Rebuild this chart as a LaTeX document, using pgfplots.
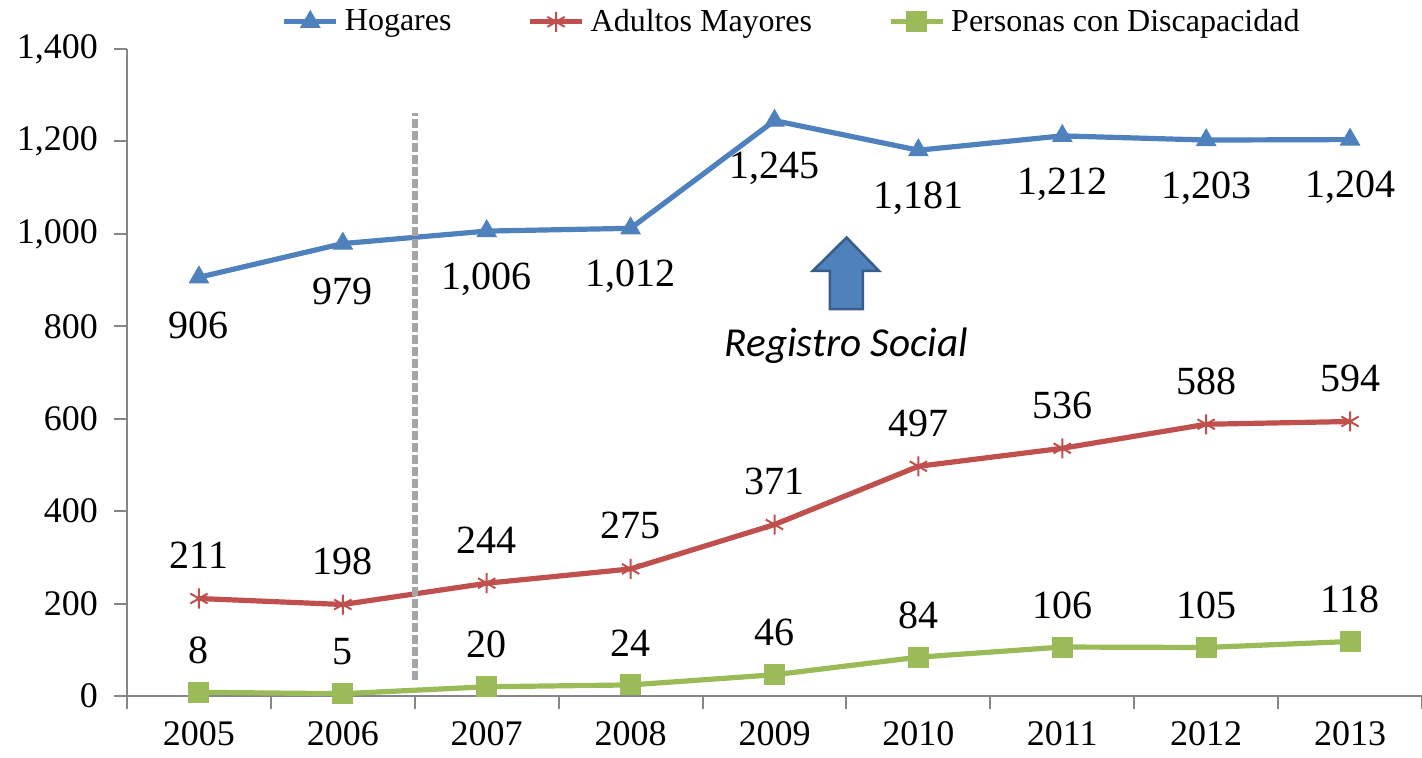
\documentclass[border=0pt]{standalone}
\usepackage{pgfplots}
\pgfplotsset{compat=1.18}
\usepackage{fontspec}
\setmainfont{Liberation Serif}
\newfontfamily\calibri{Carlito}
\definecolor{cblue}{HTML}{4F81BD}
\definecolor{cred}{HTML}{C0504D}
\definecolor{cgreen}{HTML}{9BBB59}
\definecolor{cgray}{HTML}{868686}
\definecolor{dgray}{HTML}{A6A6A6}
\definecolor{aborder}{HTML}{385D8A}
\begin{document}
\begin{tikzpicture}
\path[use as bounding box] (-63.5pt,-30.5pt) rectangle (647.5pt,348pt);
\begin{axis}[
  at={(0,0)}, anchor=south west, scale only axis,
  width=647.5pt, height=323.5pt,
  xmin=-0.5, xmax=8.5, ymin=0, ymax=1400,
  clip=false,
  axis x line*=bottom, axis y line*=left,
  axis line style={cgray, line width=1pt, -},
  tick align=outside, major tick length=6.5pt,
  tick style={cgray, line width=1pt},
  xtick={-0.5,0.5,1.5,2.5,3.5,4.5,5.5,6.5,7.5,8.5},
  xticklabels={},
  extra x ticks={0,1,2,3,4,5,6,7,8},
  extra x tick labels={2005,2006,2007,2008,2009,2010,2011,2012,2013},
  extra x tick style={tick style={draw=none}},
  xticklabel style={font=\fontsize{18}{18}\selectfont, yshift=-2.5pt},
  ytick={0,200,400,600,800,1000,1200,1400},
  yticklabel style={font=\fontsize{18}{18}\selectfont, xshift=-4.5pt},
  /pgf/number format/1000 sep={,},
  /pgf/number format/assume math mode=true,
  legend style={at={(0.514,1.042)}, anchor=center, draw=none, fill=none,
    legend columns=-1, font=\fontsize{16}{16}\selectfont,
    /tikz/every even column/.append style={column sep=36pt},
    /tikz/every odd column/.append style={column sep=1pt}},
  legend image code/.code={\draw[#1, mark repeat=2, mark phase=2] plot coordinates {(0pt,0pt) (13pt,0pt) (26pt,0pt)};},
]
\addplot[color=cblue, line width=2.6pt, mark=triangle*, mark size=5.5pt,
  mark options={solid, line width=0.5pt},
  nodes near coords,
  every node near coord/.append style={text=black, anchor=center, yshift=-24pt, font=\fontsize{20}{20}\selectfont}]
  coordinates {(0,906) (1,979) (2,1006) (3,1012) (4,1245) (5,1181) (6,1212) (7,1203) (8,1204)};
\addlegendentry{Hogares}
\addplot[color=cred, line width=2.6pt, mark=asterisk, mark size=5pt,
  mark options={solid, line width=1pt},
  nodes near coords,
  every node near coord/.append style={text=black, anchor=center, yshift=21.5pt, font=\fontsize{20}{20}\selectfont}]
  coordinates {(0,211) (1,198) (2,244) (3,275) (4,371) (5,497) (6,536) (7,588) (8,594)};
\addlegendentry{Adultos Mayores}
\addplot[color=cgreen, line width=2.6pt, mark=square*, mark size=5pt,
  mark options={solid, line width=0.5pt},
  nodes near coords,
  every node near coord/.append style={text=black, anchor=center, yshift=21pt, font=\fontsize{20}{20}\selectfont}]
  coordinates {(0,8) (1,5) (2,20) (3,24) (4,46) (5,84) (6,106) (7,105) (8,118)};
\addlegendentry{Personas con Discapacidad}
\draw[dgray, line width=3pt, dash pattern=on 4.5pt off 1.5pt] (axis cs:1.5,35) -- (axis cs:1.5,1262);
\filldraw[fill=cblue, draw=aborder, line width=1.3pt, line join=miter]
  (axis cs:4.501,992) -- (axis cs:4.725,920) -- (axis cs:4.614,920) -- (axis cs:4.614,837)
  -- (axis cs:4.385,837) -- (axis cs:4.385,920) -- (axis cs:4.267,920) -- cycle;
\node[font=\calibri\itshape\fontsize{20.6}{20.6}\selectfont] at (axis cs:4.5,759) {Registro Social};
\end{axis}
\end{tikzpicture}
\end{document}
